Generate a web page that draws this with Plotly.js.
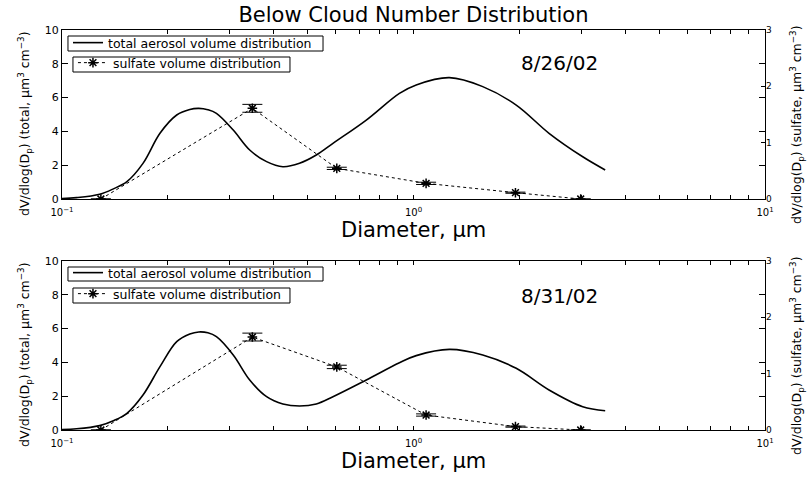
<!DOCTYPE html>
<html>
<head>
<meta charset="utf-8">
<script src="https://cdn.plot.ly/plotly-3.0.1.min.js"></script>
<style>html,body{margin:0;padding:0;background:#fff;}#chart{width:807px;height:477px;}</style>
</head>
<body>
<div id="chart"></div>
<script>
// Total aerosol volume distribution (left axis), diameters in µm
const diameter = [0.1, 0.11, 0.128, 0.14, 0.153, 0.17, 0.19, 0.212, 0.231, 0.245, 0.26, 0.275, 0.307, 0.342, 0.382, 0.425, 0.474, 0.529, 0.59, 0.734, 0.912, 1.018, 1.265, 1.574, 1.96, 2.43, 3.03, 3.51];
const total_0826 = [0.03, 0.08, 0.28, 0.6, 1.03, 2.11, 3.89, 4.97, 5.3, 5.36, 5.28, 5.07, 4.08, 2.9, 2.21, 1.91, 2.11, 2.6, 3.29, 4.67, 6.25, 6.75, 7.18, 6.65, 5.56, 3.89, 2.5, 1.72];
const total_0831 = [0.03, 0.07, 0.26, 0.55, 0.99, 2.07, 3.75, 5.23, 5.68, 5.8, 5.75, 5.52, 4.44, 2.96, 1.97, 1.54, 1.42, 1.54, 1.97, 2.96, 3.98, 4.4, 4.77, 4.44, 3.65, 2.37, 1.38, 1.14];

// Sulfate volume distribution (right axis)
const sulfateDiameter = [0.129, 0.348, 0.605, 1.086, 1.95, 2.99];
const sulfate_0826 = [0, 1.61, 0.544, 0.278, 0.112, 0];
const sulfateErr_0826 = [0, 0.07, 0.02, 0.02, 0.01, 0];
const sulfate_0831 = [0, 1.65, 1.12, 0.266, 0.06, 0];
const sulfateErr_0831 = [0, 0.07, 0.03, 0.02, 0.01, 0];

const xTickVals = [0.1,0.2,0.3,0.4,0.5,0.6,0.7,0.8,0.9,1,2,3,4,5,6,7,8,9,10];
const xTickText = ['10<sup>−1</sup>','','','','','','','','','10<sup>0</sup>','','','','','','','','','10<sup>1</sup>'];

const FONT = 'DejaVu Sans, Arial, sans-serif';

function totalTrace(y, xa, ya, lg) {
  return {x: diameter, y: y, xaxis: xa, yaxis: ya, type: 'scatter', mode: 'lines',
    name: 'total aerosol volume distribution', legend: lg,
    line: {color: 'black', width: 1.6, shape: 'spline', smoothing: 1}};
}
function sulfTrace(y, err, xa, ya, lg) {
  return {x: sulfateDiameter, y: y, xaxis: xa, yaxis: ya, type: 'scatter', mode: 'lines+markers',
    name: 'sulfate volume distribution', legend: lg,
    line: {color: 'black', width: 1, dash: 'dot'},
    marker: {symbol: 'asterisk-open', size: 8, color: 'black', line: {color: 'black', width: 1.5}},
    error_y: {type: 'data', array: err, visible: true, color: 'black', thickness: 1, width: 10}};
}

const data = [
  totalTrace(total_0826, 'x', 'y', 'legend'),
  sulfTrace(sulfate_0826, sulfateErr_0826, 'x', 'y2', 'legend2'),
  totalTrace(total_0831, 'x2', 'y3', 'legend3'),
  sulfTrace(sulfate_0831, sulfateErr_0831, 'x2', 'y4', 'legend4')
];

function xAxis(anchor) {
  return {domain: [0, 1], anchor: anchor, type: 'log', range: [-1, 1],
    tickvals: xTickVals, ticktext: xTickText, ticks: 'inside', ticklen: 4, tickcolor: 'black',
    ticklabelstandoff: 4,
    showline: true, linecolor: 'black', linewidth: 1, mirror: 'ticks',
    showgrid: false, zeroline: false, tickfont: {family: FONT, size: 10, color: 'black'}};
}
function yLeft(domain, anchor) {
  return {domain: domain, anchor: anchor, range: [0, 10], tickvals: [0,2,4,6,8,10],
    ticks: 'inside', ticklen: 6, tickcolor: 'black', showline: true, linecolor: 'black', linewidth: 1,
    mirror: 'ticks', showgrid: false, zeroline: false, tickfont: {family: FONT, size: 11, color: 'black'}};
}
function yRight(over, anchor) {
  return {overlaying: over, anchor: anchor, side: 'right', range: [0, 3], tickvals: [0,1,2,3],
    ticks: 'inside', ticklen: 4, tickcolor: 'black', showline: false, showgrid: false, zeroline: false,
    tickfont: {family: FONT, size: 9, color: 'black'}};
}
function legendBox(x, y) {
  return {x: x, y: y, xanchor: 'left', yanchor: 'top', bgcolor: 'rgba(0,0,0,0)',
    borderwidth: 0, font: {family: FONT, size: 12.5, color: 'black'}, itemwidth: 30, tracegroupgap: 0};
}
// legend frames (paper coords)
function frame(x0, x1, y0, y1) {
  return {type: 'rect', xref: 'paper', yref: 'paper', x0: x0, x1: x1, y0: y0, y1: y1,
    line: {color: 'black', width: 1}, fillcolor: 'white', layer: 'above'};
}

const yTitleL = 'dV/dlog(D<sub>p</sub>) (total, μm<sup>3</sup> cm<sup>−3</sup>)';
const yTitleR = 'dV/dlog(D<sub>p</sub>) (sulfate, μm<sup>3</sup> cm<sup>−3</sup>)';
const ann = (text, x, y, size, angle) => ({text: text, x: x, y: y, xref: 'paper', yref: 'paper',
  showarrow: false, xanchor: 'center', yanchor: 'middle', textangle: angle || 0,
  font: {family: FONT, size: size, color: 'black'}});

const layout = {
  width: 807, height: 477,
  margin: {l: 62, r: 42, t: 30, b: 47},
  paper_bgcolor: 'white', plot_bgcolor: 'white',
  title: {text: 'Below Cloud Number Distribution', x: 0.5, xref: 'paper', y: 1 - 15/477, yanchor: 'middle',
    font: {family: FONT, size: 21, color: 'black'}},
  xaxis: xAxis('y'),
  xaxis2: xAxis('y3'),
  yaxis: yLeft([0.5775, 1], 'x'),
  yaxis2: yRight('y', 'x'),
  yaxis3: yLeft([0, 0.4225], 'x2'),
  yaxis4: yRight('y3', 'x2'),
  legend: legendBox(0.0085, 1.005),
  legend2: legendBox(0.0156, 0.955),
  legend3: legendBox(0.0085, 0.43),
  legend4: legendBox(0.0156, 0.3775),
  showlegend: true,
  shapes: [
    frame(0.0085, 0.3713, 0.9475, 0.985),
    frame(0.0156, 0.3243, 0.895, 0.9325),
    frame(0.0085, 0.3713, 0.3725, 0.4075),
    frame(0.0156, 0.3243, 0.3175, 0.355)
  ],
  annotations: [
    ann('8/26/02', 0.708, 0.9175, 20),
    ann('8/31/02', 0.708, 0.335, 20),
    ann('Diameter, μm', 0.5, 0.5, 21),
    ann('Diameter, μm', 0.5, -0.0775, 21),
    ann(yTitleL, -0.0526, 0.765, 12.5, -90),
    ann(yTitleL, -0.0526, 0.1875, 12.5, -90),
    ann(yTitleR, 1.0455, 0.765, 12.5, -90),
    ann(yTitleR, 1.0455, 0.1875, 12.5, -90)
  ]
};

Plotly.newPlot('chart', data, layout, {staticPlot: true, displayModeBar: false});
</script>
</body>
</html>
